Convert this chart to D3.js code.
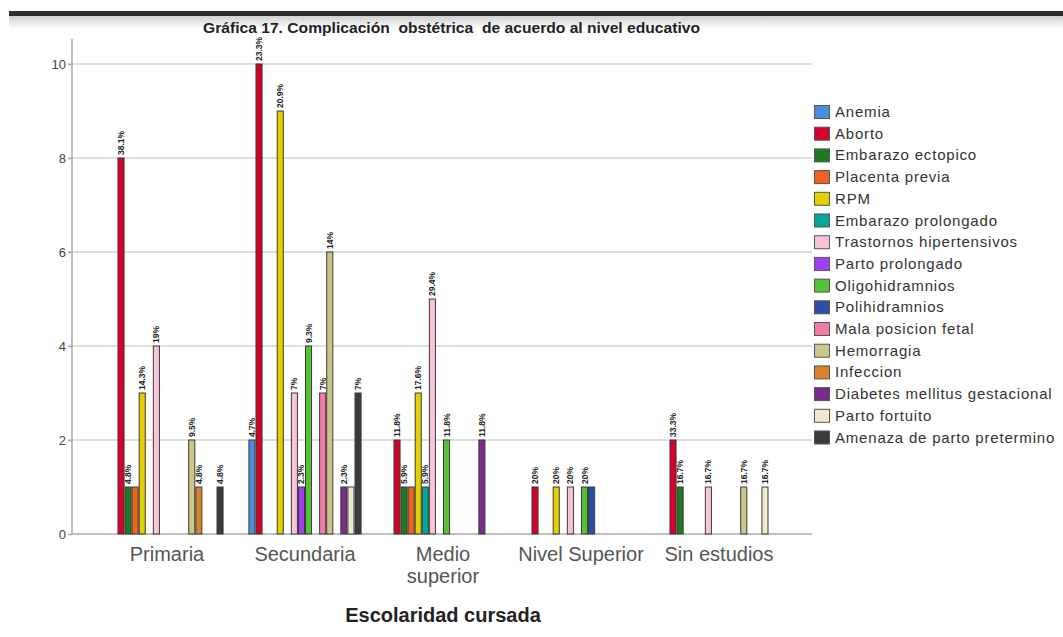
<!DOCTYPE html>
<html>
<head>
<meta charset="utf-8">
<script src="https://cdn.jsdelivr.net/npm/d3@7"></script>
<style>
  html, body { margin: 0; padding: 0; background: #fff; }
  svg { display: block; }
</style>
</head>
<body>
<svg id="chart" width="1063" height="637"></svg>
<script>
// Education levels (x categories)
const categories = ["Primaria", "Secundaria", "Medio superior", "Nivel Superior", "Sin estudios"];

// Obstetric complications (series)
const series = [
  "Anemia", "Aborto", "Embarazo ectopico", "Placenta previa", "RPM",
  "Embarazo prolongado", "Trastornos hipertensivos", "Parto prolongado",
  "Oligohidramnios", "Polihidramnios", "Mala posicion fetal", "Hemorragia",
  "Infeccion", "Diabetes mellitus gestacional", "Parto fortuito",
  "Amenaza de parto pretermino"
];

const seriesColors = [
  "#4a8fdb", "#d5002c", "#1e7a22", "#f0631f", "#e3d000",
  "#00a697", "#f8c3da", "#a13ff2", "#55c236", "#2c4ea6",
  "#f27ba6", "#cdc68c", "#d8822c", "#7a2c8c", "#efe8d0",
  "#3b3b3b"
];

// Counts per education level, in series order
const primaria      = [0, 8, 1, 1, 3, 0, 4, 0, 0, 0, 0, 2, 1, 0, 0, 1];
const secundaria    = [2, 10, 0, 0, 9, 0, 3, 1, 4, 0, 3, 6, 0, 1, 1, 3];
const medioSuperior = [0, 2, 1, 1, 3, 1, 5, 0, 2, 0, 0, 0, 0, 2, 0, 0];
const nivelSuperior = [0, 1, 0, 0, 1, 0, 1, 0, 1, 1, 0, 0, 0, 0, 0, 0];
const sinEstudios   = [0, 2, 1, 0, 0, 0, 1, 0, 0, 0, 0, 1, 0, 0, 1, 0];

const counts = [primaria, secundaria, medioSuperior, nivelSuperior, sinEstudios];

const yTicks = [0, 2, 4, 6, 8, 10];

const svg = d3.select("#chart");

// Dark rule across the top with a soft shadow below
const defs = svg.append("defs");
const grad = defs.append("linearGradient").attr("id", "shade").attr("x1", 0).attr("x2", 0).attr("y1", 0).attr("y2", 1);
grad.append("stop").attr("offset", "0%").attr("stop-color", "#cfcfcf");
grad.append("stop").attr("offset", "100%").attr("stop-color", "#ffffff");
svg.append("rect").attr("x", 9).attr("y", 16).attr("width", 1054).attr("height", 13).attr("fill", "url(#shade)");
svg.append("rect").attr("x", 9).attr("y", 11).attr("width", 1054).attr("height", 5).attr("fill", "#2b2b2b");

// Title
svg.append("text")
  .attr("x", 203).attr("y", 33)
  .attr("font-family", "'Liberation Sans', Arial, sans-serif")
  .attr("font-weight", "bold")
  .attr("font-size", 14.5)
  .attr("fill", "#222")
  .attr("textLength", 497)
  .attr("lengthAdjust", "spacingAndGlyphs")
  .style("white-space", "pre")
  .text("Gráfica 17. Complicación  obstétrica  de acuerdo al nivel educativo");

// Scales
const plotLeft = 72, plotRight = 812, plotBottom = 534, plotTop = 39;
const y = d3.scaleLinear().domain([0, 10]).range([plotBottom, 64]);
const x0 = d3.scaleBand().domain(categories).range([98, 788]).paddingInner(0.18).paddingOuter(0.09);
const x1 = d3.scaleBand().domain(series).range([0, x0.bandwidth()]);

// Grid lines
svg.append("g")
  .selectAll("line")
  .data(yTicks.filter(t => t > 0))
  .join("line")
  .attr("x1", plotLeft - 4).attr("x2", plotRight)
  .attr("y1", d => y(d)).attr("y2", d => y(d))
  .attr("stroke", "#d3d3d3").attr("stroke-width", 1.5);

// Y axis
const yAxis = svg.append("g")
  .attr("transform", `translate(${plotLeft},0)`)
  .call(d3.axisLeft(y).tickValues(yTicks).tickSize(4).tickFormat(d3.format("d")));
yAxis.select(".domain").remove();
yAxis.selectAll(".tick line").attr("stroke", "#aaa").attr("stroke-width", 1.5);
yAxis.selectAll(".tick text")
  .attr("font-family", "'Liberation Sans', Arial, sans-serif")
  .attr("font-size", 13)
  .attr("fill", "#444")
  .attr("x", -6);
svg.append("line")
  .attr("x1", plotLeft).attr("x2", plotLeft)
  .attr("y1", plotTop).attr("y2", plotBottom)
  .attr("stroke", "#aaa").attr("stroke-width", 1.5);

// X axis line
svg.append("line")
  .attr("x1", plotLeft).attr("x2", plotRight)
  .attr("y1", plotBottom).attr("y2", plotBottom)
  .attr("stroke", "#aaa").attr("stroke-width", 1.5);

// Bars
const fmtPct = v => {
  const s = v.toFixed(1);
  return (s.endsWith(".0") ? s.slice(0, -2) : s) + "%";
};

const groups = svg.append("g")
  .selectAll("g")
  .data(categories.map((c, i) => ({ cat: c, vals: counts[i], total: d3.sum(counts[i]) })))
  .join("g")
  .attr("transform", d => `translate(${x0(d.cat)},0)`);

const barData = g => g.vals.map((v, j) => ({
  name: series[j], idx: j, value: v, total: g.total,
  prev: j > 0 ? g.vals[j - 1] : 0
})).filter(d => d.value > 0);

groups.selectAll("rect")
  .data(d => barData(d))
  .join("rect")
  .attr("x", d => x1(d.name) + 0.5)
  .attr("width", x1.bandwidth() - 1)
  .attr("y", d => y(d.value))
  .attr("height", d => y(0) - y(d.value))
  .attr("fill", d => seriesColors[d.idx])
  .attr("stroke", "#3a3a3a")
  .attr("stroke-width", 1);

// Percentage labels (a label is left out when it would sit on top of its neighbour's identical label)
groups.selectAll("text.pct")
  .data(d => barData(d).filter(b => b.prev !== b.value))
  .join("text")
  .attr("class", "pct")
  .attr("transform", d => `translate(${x1(d.name) + x1.bandwidth() / 2 + 3},${y(d.value) - 3}) rotate(-90)`)
  .attr("font-family", "'Liberation Sans', Arial, sans-serif")
  .attr("font-weight", "bold")
  .attr("font-size", 8.5)
  .attr("fill", "#222")
  .text(d => fmtPct(d.value / d.total * 100));

// Category labels
const catLabels = svg.append("g")
  .selectAll("text")
  .data(categories)
  .join("text")
  .attr("x", d => x0(d) + x0.bandwidth() / 2)
  .attr("y", 561)
  .attr("text-anchor", "middle")
  .attr("font-family", "'Liberation Sans', Arial, sans-serif")
  .attr("font-size", 20)
  .attr("fill", "#555");
catLabels.each(function (d) {
  const words = d === "Medio superior" ? ["Medio", "superior"] : [d];
  d3.select(this).selectAll("tspan")
    .data(words)
    .join("tspan")
    .attr("x", x0(d) + x0.bandwidth() / 2)
    .attr("dy", (w, i) => i === 0 ? 0 : 22)
    .text(w => w);
});

// X axis title
svg.append("text")
  .attr("x", 443).attr("y", 622)
  .attr("text-anchor", "middle")
  .attr("font-family", "'Liberation Sans', Arial, sans-serif")
  .attr("font-weight", "bold")
  .attr("font-size", 20)
  .attr("fill", "#222")
  .text("Escolaridad cursada");

// Legend
const legend = svg.append("g").attr("transform", "translate(814,105)");
const rowH = 21.7;
const items = legend.selectAll("g")
  .data(series)
  .join("g")
  .attr("transform", (d, i) => `translate(0,${i * rowH})`);
items.append("rect")
  .attr("x", 0.5).attr("y", 0.5)
  .attr("width", 15).attr("height", 13)
  .attr("fill", (d, i) => seriesColors[i])
  .attr("stroke", "#555").attr("stroke-width", 1);
items.append("text")
  .attr("x", 21).attr("y", 12)
  .attr("font-family", "'Liberation Sans', Arial, sans-serif")
  .attr("font-size", 15)
  .attr("letter-spacing", 0.8)
  .attr("fill", "#333")
  .text(d => d);
</script>
</body>
</html>
